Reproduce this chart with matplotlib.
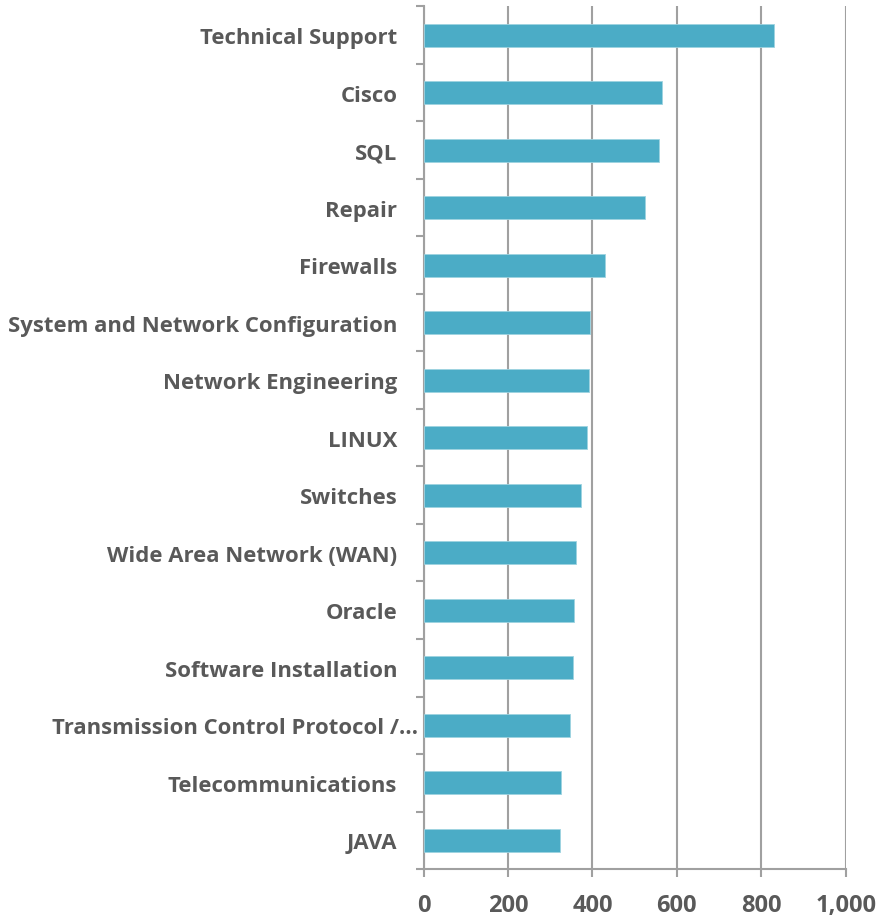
import matplotlib
matplotlib.use("Agg")
import matplotlib.pyplot as plt
from matplotlib.ticker import FixedLocator
import numpy as np

categories = [
    "Technical Support", "Cisco", "SQL", "Repair", "Firewalls",
    "System and Network Configuration", "Network Engineering", "LINUX",
    "Switches", "Wide Area Network (WAN)", "Oracle", "Software Installation",
    "Transmission Control Protocol /\u2026", "Telecommunications", "JAVA",
]
values = [831, 564, 557, 524, 430, 395, 391, 388, 373, 361, 357, 354, 346, 325, 324]
x_ticks = [0, 200, 400, 600, 800, 1000]

FONT = ["Open Sans", "DejaVu Sans"]
TXT = "#595959"
GRID = "#A0A0A0"
BAR = "#4BACC6"

fig = plt.figure(figsize=(8.79, 9.2), dpi=100)
ax = fig.add_axes([0.482, 0.0543, 0.48, 0.9377])

y = np.arange(len(categories))
ax.barh(y, values, height=0.4, color=BAR, edgecolor="#9ED3E0", linewidth=0.6, zorder=3)
ax.set_ylim(len(categories) - 0.5, -0.5)
ax.set_xlim(0, 1000)

ax.set_yticks(y)
ax.set_yticklabels(categories, fontsize=15.9, fontweight="bold", color=TXT, family=FONT)
ax.yaxis.set_minor_locator(FixedLocator(np.arange(-0.5, len(categories), 1.0)))
ax.tick_params(axis="y", which="major", length=0, pad=19)
ax.tick_params(axis="y", which="minor", length=6, width=1.5, color=GRID, direction="out")

ax.set_xticks(x_ticks)
ax.set_xticklabels([f"{v:,}" for v in x_ticks], fontsize=17, fontweight="bold",
                   color=TXT, family=FONT)
ax.tick_params(axis="x", which="major", length=6, width=1.5, color=GRID, pad=11)

ax.grid(axis="x", color=GRID, linewidth=1.5, zorder=0)
for s in ["top", "right"]:
    ax.spines[s].set_visible(False)
for s in ["left", "bottom"]:
    ax.spines[s].set_color(GRID)
    ax.spines[s].set_linewidth(1.5)

ticks = ax.yaxis.get_major_ticks()
ticks[12].set_pad(4)

fig.savefig("out.png", dpi=100, facecolor="white")
